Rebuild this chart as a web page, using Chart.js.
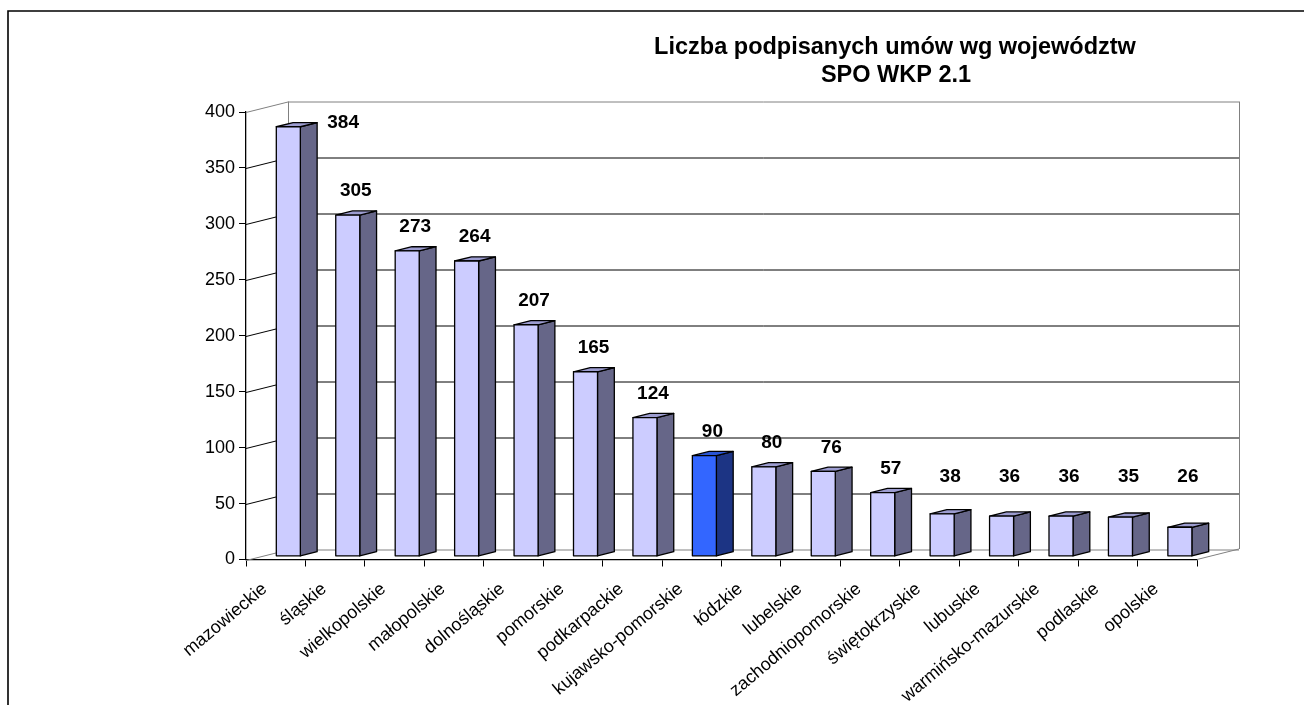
<!DOCTYPE html>
<html>
<head>
<meta charset="utf-8">
<script src="https://cdn.jsdelivr.net/npm/chart.js@4.4.1/dist/chart.umd.min.js"></script>
<style>
  html, body { margin: 0; padding: 0; background: #fff; }
  #wrap { width: 1304px; height: 705px; position: relative; }
</style>
</head>
<body>
<div id="wrap"><canvas id="barChart"></canvas></div>
<script>
// data
const regions = ["mazowieckie", "śląskie", "wielkopolskie", "małopolskie", "dolnośląskie", "pomorskie",
  "podkarpackie", "kujawsko-pomorskie", "łódzkie", "lubelskie", "zachodniopomorskie", "świętokrzyskie",
  "lubuskie", "warmińsko-mazurskie", "podlaskie", "opolskie"];
const contracts = [384, 305, 273, 264, 207, 165, 124, 90, 80, 76, 57, 38, 36, 36, 35, 26];
const highlighted = ["kujawsko-pomorskie"];
const yTicks = [0, 50, 100, 150, 200, 250, 300, 350, 400];
const titleLines = ["Liczba podpisanych umów wg województw", "SPO WKP 2.1"];

const FONT = "'Liberation Sans', Arial, sans-serif";
// 3d depth of the plot box and where the bars sit in it
const DX = 42, DY = -10.5;
const BAR_POS = 0.3, BAR_DEPTH = 0.4;

const isHi = i => highlighted.includes(regions[i]);

const box3d = {
  id: "box3d",
  beforeDatasetsDraw(chart) {
    const { ctx, chartArea: a, scales: { y } } = chart;
    ctx.save();
    ctx.lineWidth = 1;
    yTicks.forEach(v => {
      const py = Math.round(y.getPixelForValue(v)) + 0.5;
      const edge = v === yTicks[0] || v === yTicks[yTicks.length - 1];
      ctx.strokeStyle = edge ? "#808080" : "#000";
      // back wall
      ctx.beginPath();
      ctx.moveTo(a.left + DX, py + DY);
      ctx.lineTo(a.right + DX, py + DY);
      ctx.stroke();
      // side wall
      ctx.beginPath();
      ctx.moveTo(a.left, py);
      ctx.lineTo(a.left + DX, py + DY);
      ctx.stroke();
    });
    const top = y.getPixelForValue(yTicks[yTicks.length - 1]);
    const bot = y.getPixelForValue(yTicks[0]);
    ctx.strokeStyle = "#808080";
    ctx.beginPath();
    ctx.moveTo(Math.round(a.left + DX) + 0.5, top + DY);
    ctx.lineTo(Math.round(a.left + DX) + 0.5, bot + DY);
    ctx.moveTo(Math.round(a.right + DX) + 0.5, top + DY);
    ctx.lineTo(Math.round(a.right + DX) + 0.5, bot + DY);
    ctx.moveTo(a.right, bot);
    ctx.lineTo(a.right + DX, bot + DY);
    ctx.stroke();
    ctx.restore();
  },
  afterDatasetsDraw(chart) {
    const { ctx, chartArea: a } = chart;
    const meta = chart.getDatasetMeta(0);
    const ox = DX * BAR_POS, oy = DY * BAR_POS;
    const dx = DX * BAR_DEPTH, dy = DY * BAR_DEPTH;
    ctx.save();
    ctx.lineWidth = 1.3;
    ctx.strokeStyle = "#000";
    ctx.lineJoin = "round";
    meta.data.forEach((el, i) => {
      const x0 = el.x - el.width / 2 + ox, x1 = x0 + el.width;
      const yt = el.y + oy, yb = el.base + oy;
      const hi = isHi(i);
      // side
      ctx.fillStyle = hi ? "#1c3484" : "#666688";
      ctx.beginPath();
      ctx.moveTo(x1, yb); ctx.lineTo(x1, yt); ctx.lineTo(x1 + dx, yt + dy); ctx.lineTo(x1 + dx, yb + dy);
      ctx.closePath(); ctx.fill(); ctx.stroke();
      // top
      ctx.fillStyle = hi ? "#2a55d4" : "#9c9cd0";
      ctx.beginPath();
      ctx.moveTo(x0, yt); ctx.lineTo(x1, yt); ctx.lineTo(x1 + dx, yt + dy); ctx.lineTo(x0 + dx, yt + dy);
      ctx.closePath(); ctx.fill(); ctx.stroke();
      // front
      ctx.fillStyle = hi ? "#3366ff" : "#ccccff";
      ctx.fillRect(x0, yt, x1 - x0, yb - yt);
      ctx.strokeRect(x0, yt, x1 - x0, yb - yt);
    });
    // value labels
    ctx.fillStyle = "#000";
    ctx.font = "bold 19px " + FONT;
    ctx.textAlign = "center";
    ctx.textBaseline = "middle";
    meta.data.forEach((el, i) => {
      const x0 = el.x - el.width / 2 + ox;
      const yt = el.y + oy;
      let lx = x0 + el.width / 2 + 8;
      let ly = Math.min(yt - 24, 477);
      if (ly - 9 < a.top) { // no room above: put it beside the bar
        lx = x0 + el.width + dx + 26;
        ly = yt - 4;
      }
      ctx.fillText(String(contracts[i]), lx, ly);
    });
    ctx.restore();
  },
  afterDraw(chart) {
    const { ctx } = chart;
    ctx.save();
    // outer frame (only top and left are inside the picture)
    ctx.strokeStyle = "#000";
    ctx.lineWidth = 1.6;
    ctx.beginPath();
    ctx.moveTo(8, 705); ctx.lineTo(8, 11); ctx.lineTo(1304, 11);
    ctx.stroke();
    // title
    ctx.fillStyle = "#000";
    ctx.font = "bold 23.5px " + FONT;
    ctx.textAlign = "center";
    ctx.textBaseline = "middle";
    ctx.fillText(titleLines[0], 895, 48);
    ctx.fillText(titleLines[1], 896, 76);
    ctx.restore();
  }
};

new Chart(document.getElementById("barChart"), {
  type: "bar",
  data: {
    labels: regions,
    datasets: [{
      data: contracts,
      backgroundColor: "rgba(0,0,0,0)",
      borderWidth: 0,
      barPercentage: 0.404,
      categoryPercentage: 1
    }]
  },
  options: {
    responsive: true,
    maintainAspectRatio: false,
    animation: false,
    devicePixelRatio: 1,
    layout: { padding: { left: 0, top: 112, right: 107, bottom: 0 } },
    plugins: {
      legend: { display: false },
      tooltip: { enabled: false }
    },
    scales: {
      x: {
        offset: true,
        grid: { offset: true, drawOnChartArea: false, tickLength: 7, color: "#000" },
        border: { color: "#000", width: 1.3 },
        ticks: {
          autoSkip: false,
          minRotation: 40, maxRotation: 40,
          padding: 12, labelOffset: -11,
          color: "#000",
          font: { family: FONT, size: 18 }
        },
        afterFit: s => { s.height = 145.5; }
      },
      y: {
        min: yTicks[0],
        max: yTicks[yTicks.length - 1],
        grid: { drawOnChartArea: false, tickLength: 7, color: "#000" },
        border: { color: "#000", width: 1.3 },
        ticks: {
          stepSize: yTicks[1] - yTicks[0],
          padding: 4,
          color: "#000",
          font: { family: FONT, size: 18 }
        },
        afterFit: s => { s.width = 246; }
      }
    }
  },
  plugins: [box3d]
});
</script>
</body>
</html>
